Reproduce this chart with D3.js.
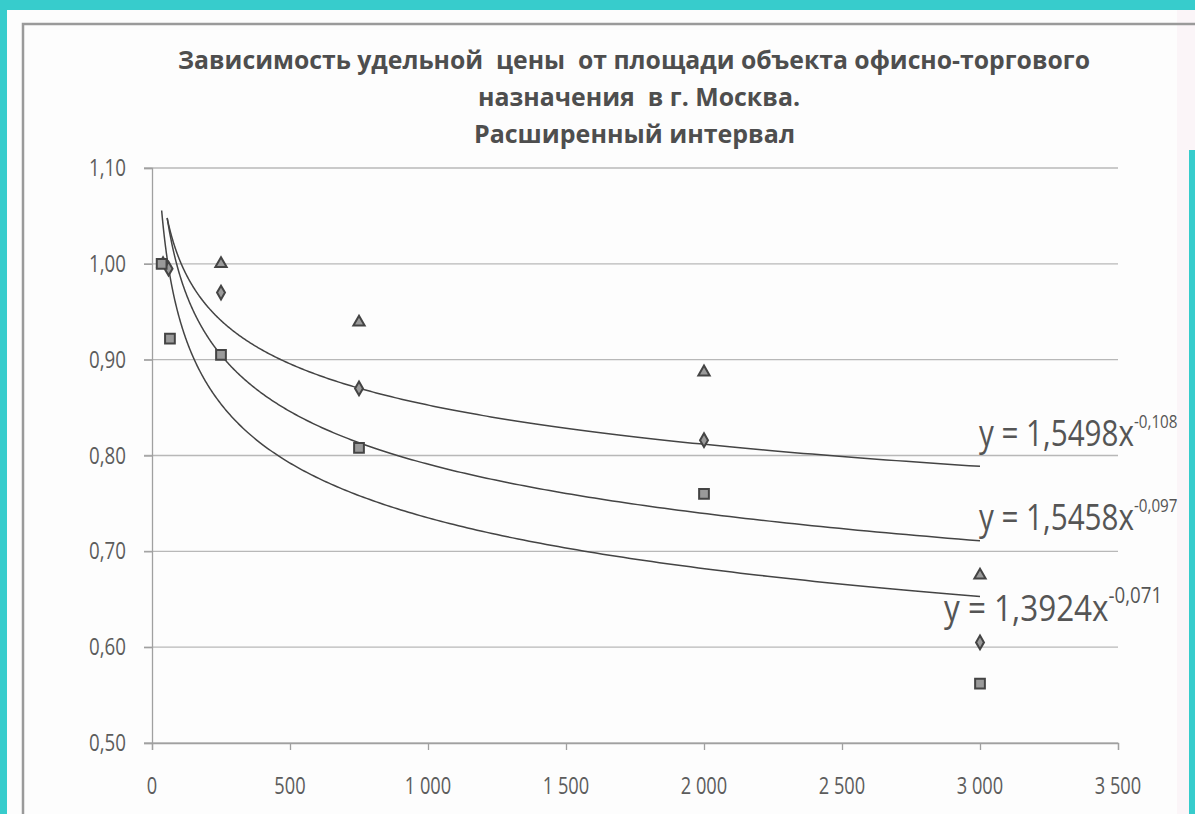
<!DOCTYPE html>
<html>
<head>
<meta charset="utf-8">
<script src="https://cdn.jsdelivr.net/npm/d3@7"></script>
<style>
  html, body { margin: 0; padding: 0; background: #fff; }
  svg { display: block; }
</style>
</head>
<body>
<svg id="chart" width="1195" height="814"></svg>
<script>
// ---- data ----
const titleLines = [
  "Зависимость удельной  цены  от площади объекта офисно-торгового",
  "назначения  в г. Москва.",
  "Расширенный интервал"
];
const xTicks = [0, 500, 1000, 1500, 2000, 2500, 3000, 3500];
const yTicks = [0.50, 0.60, 0.70, 0.80, 0.90, 1.00, 1.10];

const triangleX = [40, 250, 750, 2000, 3000];
const triangleY = [1.00, 1.00, 0.939, 0.887, 0.675];
const diamondX  = [60, 250, 750, 2000, 3000];
const diamondY  = [0.995, 0.970, 0.870, 0.816, 0.605];
const squareX   = [35, 65, 250, 750, 2000, 3000];
const squareY   = [1.00, 0.922, 0.905, 0.808, 0.760, 0.562];

// power trend lines y = a * x^b
const trendA     = [1.5498, 1.5458, 1.3924];
const trendB     = [-0.108, -0.097, -0.071];
const trendStart = [35, 55, 55];
const trendEnd   = [3000, 3000, 3000];
const trendCoef  = ["1,5498", "1,5458", "1,3924"];
const trendExp   = ["-0,108", "-0,097", "-0,071"];

// ---- drawing ----
const svg = d3.select("#chart");
const W = 1195, H = 814;
const teal = "#37cccc";
const ink = "#555";

svg.append("rect").attr("width", W).attr("height", H).attr("fill", "#fdfdfd");
svg.append("rect").attr("x", 1177).attr("y", 10).attr("width", 18).attr("height", H).attr("fill", "#fbf5f8");
// teal photo border
svg.append("rect").attr("x", 0).attr("y", 0).attr("width", W).attr("height", 10).attr("fill", teal);
svg.append("rect").attr("x", 0).attr("y", 0).attr("width", 7).attr("height", H).attr("fill", teal);
svg.append("rect").attr("x", 1189).attr("y", 150).attr("width", 6).attr("height", H).attr("fill", teal);
// chart frame
svg.append("path").attr("d", `M23,${H} L23,24 L${W},24`).attr("fill", "none")
  .attr("stroke", "#9a9a9a").attr("stroke-width", 2.5);

const x = d3.scaleLinear().domain([0, 3500]).range([152, 1118]);
const y = d3.scaleLinear().domain([0.5, 1.1]).range([743, 168]);

const loc = d3.formatLocale({decimal: ",", thousands: "\u00a0", grouping: [3], currency: ["", ""]});
const fy = loc.format(".2f");
const fx = loc.format(",.0f");

function ctext(g, str, px, py, size, anchor, sx, weight, fill) {
  return g.append("text")
    .attr("transform", `translate(${px},${py}) scale(${sx},1)`)
    .attr("text-anchor", anchor)
    .attr("font-family", "'Open Sans', 'Noto Sans', sans-serif")
    .attr("font-size", size)
    .attr("font-weight", weight || "normal")
    .attr("fill", fill || ink)
    .text(str);
}

// title
const tg = svg.append("g");
const tY = [69, 106, 143];
const tL = [912, 322, 321];
const tX = [178, 478, 474];
titleLines.forEach((t, i) => {
  tg.append("text")
    .attr("x", tX[i]).attr("y", tY[i])
    .attr("xml:space", "preserve")
    .style("white-space", "pre")
    .attr("textLength", tL[i]).attr("lengthAdjust", "spacingAndGlyphs")
    .attr("font-family", "'Open Sans', 'Noto Sans', sans-serif")
    .attr("font-size", 25).attr("font-weight", "bold")
    .attr("fill", "#4e4e4e")
    .text(t);
});

// gridlines
svg.append("g").selectAll("line").data(yTicks).join("line")
  .attr("x1", 144).attr("x2", 1118)
  .attr("y1", d => y(d)).attr("y2", d => y(d))
  .attr("stroke", "#b8b8b8").attr("stroke-width", 1.3);

// axes
const yAxis = svg.append("g").attr("transform", `translate(152,0)`)
  .call(d3.axisLeft(y).tickValues(yTicks).tickSize(8).tickFormat(""));
const xAxis = svg.append("g").attr("transform", `translate(0,743)`)
  .call(d3.axisBottom(x).tickValues(xTicks).tickSize(7).tickFormat(""));
[yAxis, xAxis].forEach(a => {
  a.select(".domain").attr("stroke", "#a0a0a0").attr("stroke-width", 1.3);
  a.selectAll(".tick line").attr("stroke", "#a0a0a0").attr("stroke-width", 1.3);
});

// tick labels
const lg = svg.append("g");
yTicks.forEach(v => ctext(lg, fy(v), 126, y(v) + 8, 24, "end", 0.78, "normal", "#5c5c5c"));
xTicks.forEach(v => ctext(lg, fx(v), x(v), 794, 24, "middle", 0.76, "normal", "#5c5c5c"));

// trend curves
const line = d3.line().x(d => x(d[0])).y(d => y(d[1])).curve(d3.curveLinear);
trendA.forEach((a, i) => {
  const pts = d3.range(0, 301).map(k => {
    const xv = trendStart[i] * Math.pow(trendEnd[i] / trendStart[i], k / 300);
    return [xv, a * Math.pow(xv, trendB[i])];
  });
  svg.append("path").attr("d", line(pts)).attr("fill", "none")
    .attr("stroke", "#444").attr("stroke-width", 1.5);
});

// markers
function markers(xs, ys, type, size) {
  svg.append("g").selectAll("path").data(xs.map((v, i) => [v, ys[i]])).join("path")
    .attr("transform", d => `translate(${x(d[0])},${y(d[1])})`)
    .attr("d", d3.symbol().type(type).size(size))
    .attr("fill", "#9a9a9a").attr("stroke", "#444").attr("stroke-width", 2);
}
markers(triangleX, triangleY, d3.symbolTriangle, 55);
markers(diamondX, diamondY, d3.symbolDiamond, 55);
markers(squareX, squareY, d3.symbolSquare, 95);

// equation labels
const eqX = [979, 979, 944];
const eqY = [446, 530, 621];
const eqS = [0.8, 0.8, 0.85];
const eg = svg.append("g");
trendCoef.forEach((c, i) => {
  const t = eg.append("text")
    .attr("transform", `translate(${eqX[i]},${eqY[i]}) scale(${eqS[i]},1)`)
    .attr("font-family", "'Open Sans', 'Noto Sans', sans-serif")
    .attr("fill", "#555");
  t.append("tspan").attr("font-size", 37).text(`y = ${c}x`);
  t.append("tspan").attr("font-size", i < 2 ? 19 : 22).attr("dy", -18).text(trendExp[i]);
});
</script>
</body>
</html>
